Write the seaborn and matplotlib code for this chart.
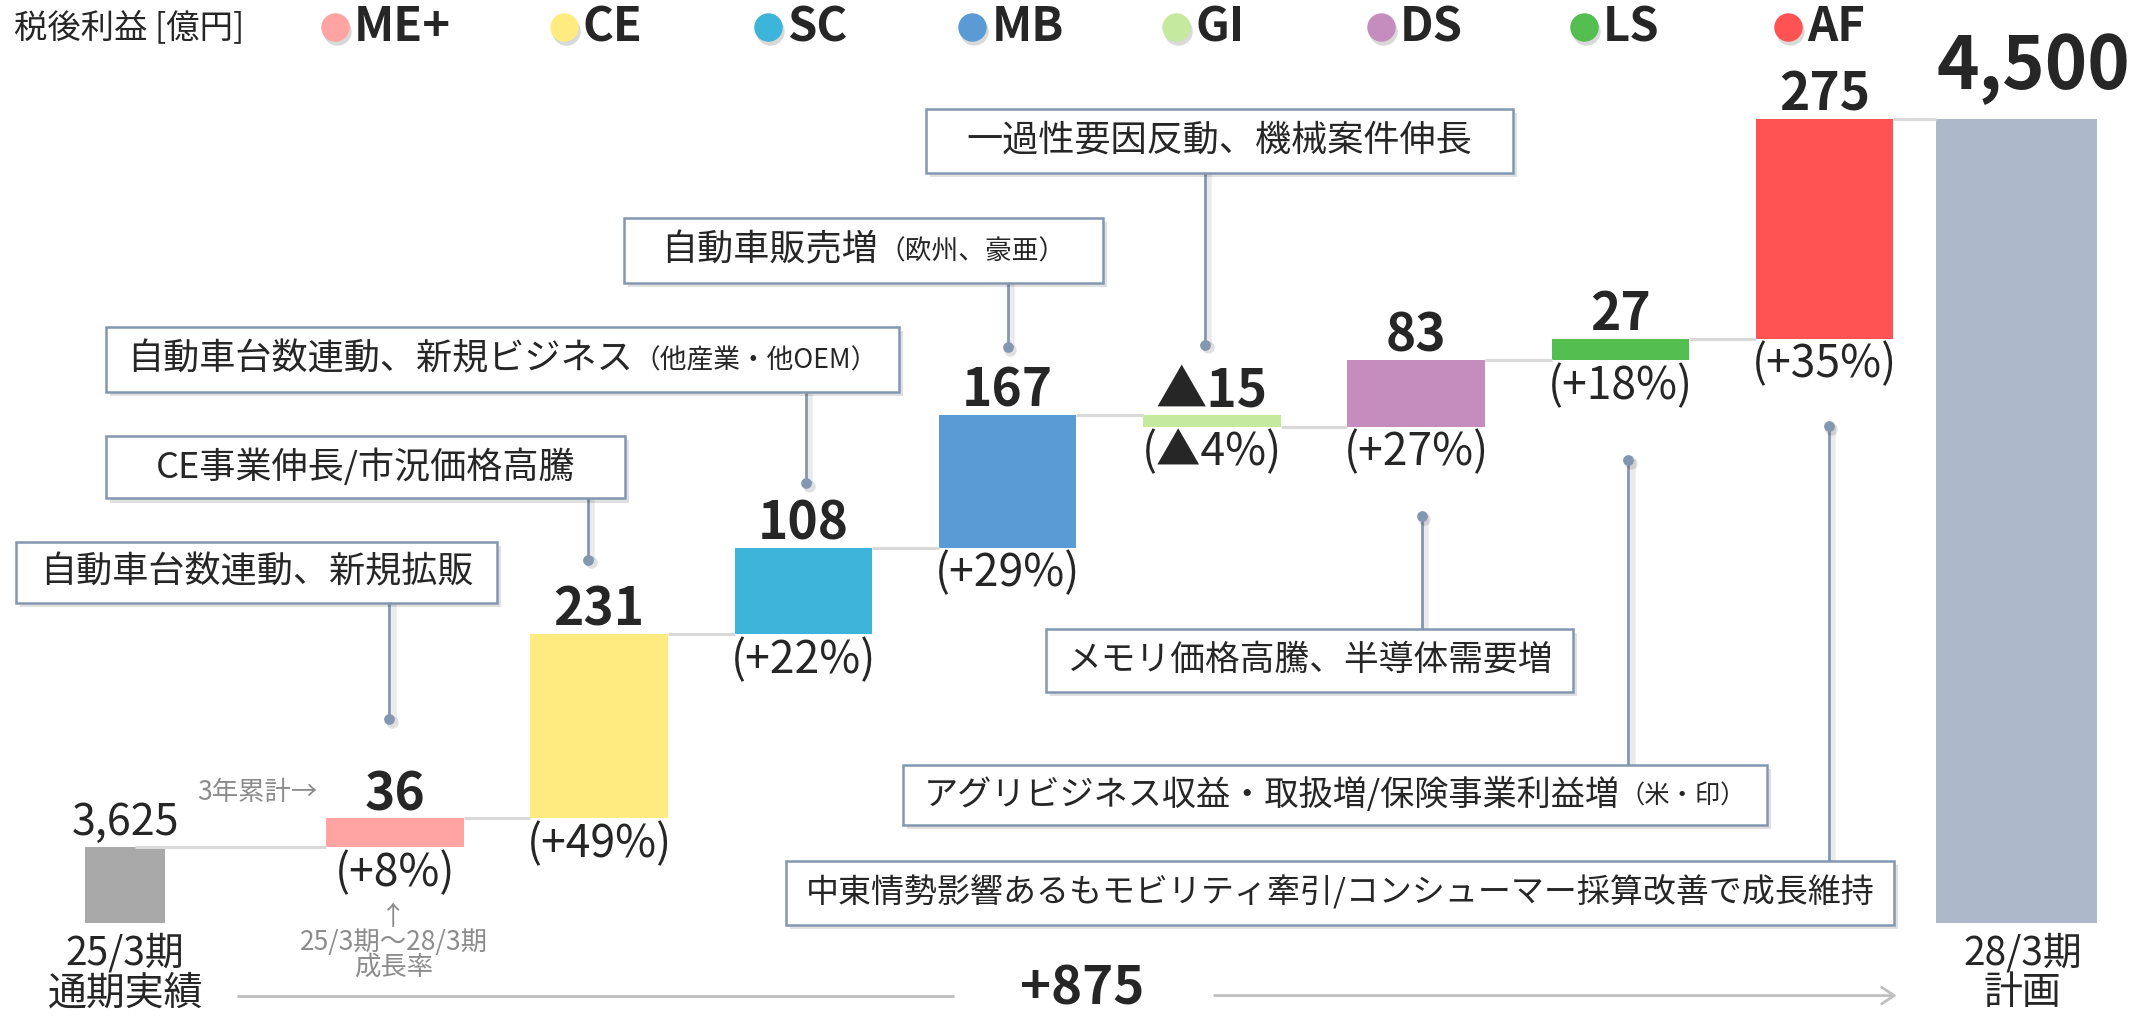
import numpy as np
import pandas as pd
import matplotlib.pyplot as plt
import seaborn as sns
from matplotlib.patches import Rectangle

# ---- data ----
start_label = "25/3期\n通期実績"
end_label = "28/3期\n計画"
segments = ["ME+", "CE", "SC", "MB", "GI", "DS", "LS", "AF"]
start_value = 3625
deltas = [36, 231, 108, 167, -15, 83, 27, 275]
growth_pct = [8, 49, 22, 29, -4, 27, 18, 35]
plan_value = 4500
total_change = 875

seg_colors = ["#FFA3A3", "#FFEB7F", "#3DB4DA", "#5B9BD5", "#C6E9A0", "#C48DBE", "#55BE50", "#FF5353"]
start_color = "#A9A9A9"
end_color = "#ADB9CA"

notes_main = ["一過性要因反動、機械案件伸長", "自動車販売増", "自動車台数連動、新規ビジネス",
              "CE事業伸長/市況価格高騰", "自動車台数連動、新規拡販", "メモリ価格高騰、半導体需要増",
              "アグリビジネス収益・取扱増/保険事業利益増",
              "中東情勢影響あるもモビリティ牽引/コンシューマー採算改善で成長維持"]
notes_small = ["", "（欧州、豪亜）", "（他産業・他OEM）", "", "", "", "（米・印）", ""]

# ---- layout (reference pixel grid 1568x746) ----
W, H = 1568, 746
note_boxes = [(680, 80, 1111, 127), (458, 160, 810, 208), (78, 240, 660, 288),
              (78, 320, 459, 366), (12, 398, 365, 443), (768, 462, 1155, 508),
              (663, 562, 1298, 606), (577, 632, 1391, 679)]
note_link_x = [885, 740, 592, 432, 286, 1044, 1196, 1343]
note_dot_y = [253, 255, 355, 411, 528, 379, 338, 313]
legend_x = [246, 414, 564, 714, 864, 1014, 1163, 1313]

px_per_unit = 0.586
y_start_px, base_px = 622, 678
base = start_value - (base_px - y_start_px) / px_per_unit

pos = [-0.32] + list(range(1, 9)) + [8.94]
widths = [0.393] + [0.673] * 8 + [0.787]

cum = start_value + np.cumsum([0] + deltas)
seg_bottom = np.minimum(cum[:-1], cum[1:])
end_top = cum[-1]

df = pd.DataFrame({
    "step": [start_label] + segments + [end_label],
    "pos": pos,
    "bottom": [base] + list(seg_bottom) + [base],
    "height": [start_value - base] + list(np.abs(deltas)) + [end_top - base],
})
colors = [start_color] + seg_colors + [end_color]

sns.set_style("white")
plt.rcParams["font.family"] = ["Noto Sans CJK JP", "DejaVu Sans"]

fig = plt.figure(figsize=(21.35, 10.16), dpi=100)
ax = fig.add_axes([0, 0, 1, 1])
sns.barplot(data=df, x="pos", y="height", native_scale=True, bottom=df["bottom"].to_numpy(),
            errorbar=None, width=0.7, linewidth=0, color=start_color, saturation=1, ax=ax)
for p, x, w, c in zip(ax.patches, df["pos"], widths, colors):
    p.set_x(x - w / 2)
    p.set_width(w)
    p.set_facecolor(c)

ax.set_xlim(1 - 290 / 150, 1 + (W - 290) / 150)
ax.set_ylim(start_value - (H - y_start_px) / px_per_unit, start_value + y_start_px / px_per_unit)
ax.axis("off")

# connectors between bars
for i in range(len(pos) - 1):
    ax.hlines(cum[i], pos[i] + widths[i] / 2 - 0.15 * (i == 0), pos[i + 1] - widths[i + 1] / 2,
              color="#D9D9D9", lw=2.2, zorder=1)

# value labels
for i, d in enumerate(deltas):
    top = max(cum[i], cum[i + 1])
    bot = min(cum[i], cum[i + 1])
    txt = f"{d}" if d > 0 else f"▲{abs(d)}"
    ax.annotate(txt, (pos[i + 1], top), xytext=(0, 6), textcoords="offset points",
                ha="center", va="baseline", fontsize=37, fontweight="bold")
    g = growth_pct[i]
    gtxt = f"(+{g}%)" if g > 0 else f"(▲{abs(g)}%)"
    ax.annotate(gtxt, (pos[i + 1], bot), xytext=(0, -2), textcoords="offset points",
                ha="center", va="top", fontsize=32)

ax.annotate(f"{start_value:,}", (pos[0], start_value), xytext=(0, 9), textcoords="offset points",
            ha="center", va="baseline", fontsize=31)
ax.annotate(f"{plan_value:,}", (pos[-1] + 0.08, end_top), xytext=(0, 22), textcoords="offset points",
            ha="center", va="baseline", fontsize=52, fontweight="bold")
ax.annotate(start_label, (pos[0], base), xytext=(0, -7), textcoords="offset points",
            ha="center", va="top", fontsize=28, linespacing=1.0)
ax.annotate(end_label, (pos[-1] + 0.03, base), xytext=(0, -7), textcoords="offset points",
            ha="center", va="top", fontsize=28, linespacing=1.0)

# ---- overlay in reference pixel space ----
lay = fig.add_axes([0, 0, 1, 1], facecolor="none")
lay.set_xlim(0, W)
lay.set_ylim(H, 0)
lay.axis("off")

lay.text(10, 20, "税後利益 [億円]", fontsize=24, va="center", ha="left")
for x, c, s in zip(legend_x, seg_colors, segments):
    lay.scatter([x + 1.5], [22.5], s=420, color="#000000", alpha=0.15, lw=0)
    lay.scatter([x], [20], s=420, color=c, lw=0)
    lay.text(x + 14, 20, s, fontsize=34, fontweight="bold", va="center", ha="left")

renderer = fig.canvas.get_renderer()


def text_w(t):
    return t.get_window_extent(renderer).width * W / (fig.get_figwidth() * fig.dpi)


edge = "#8497B0"
for main, small, (x0, y0, x1, y1), lx, dy in zip(notes_main, notes_small, note_boxes, note_link_x, note_dot_y):
    y_from = y1 if dy > y1 else y0
    lay.plot([lx + 3, lx + 3], [y_from, dy], color="#000000", alpha=0.08, lw=4, solid_capstyle="butt")
    lay.plot([lx, lx], [y_from, dy], color=edge, lw=2, zorder=3)
    lay.scatter([lx + 2], [dy + 2], s=80, color="#000000", alpha=0.12, lw=0, zorder=3)
    lay.scatter([lx], [dy], s=60, color=edge, lw=0, zorder=4)
    lay.add_patch(Rectangle((x0 + 3, y0 + 3), x1 - x0, y1 - y0, fc="#000000", alpha=0.12, lw=0, zorder=4))
    lay.add_patch(Rectangle((x0, y0), x1 - x0, y1 - y0, fc="white", ec=edge, lw=1.8, zorder=5))
    cy = (y0 + y1) / 2
    fs = 26
    t1 = lay.text(0, cy, main, fontsize=fs, va="center", ha="left", zorder=6)
    t2 = lay.text(0, cy + 1, small, fontsize=fs * 0.74, va="center", ha="left", zorder=6)
    w1, w2 = text_w(t1), (text_w(t2) if small else 0)
    avail = (x1 - x0) - 30
    if w1 + w2 > avail:
        k = avail / (w1 + w2)
        t1.set_fontsize(fs * k)
        t2.set_fontsize(fs * 0.74 * k)
        w1, w2 = text_w(t1), (text_w(t2) if small else 0)
    sx = (x0 + x1) / 2 - (w1 + w2) / 2
    t1.set_x(sx)
    t2.set_x(sx + w1)

gray = "#8C8C8C"
lay.text(189, 582, "3年累計→", fontsize=19, color=gray, ha="center", va="center")
lay.text(289, 664, "↑\n25/3期〜28/3期\n成長率", fontsize=19, color=gray, ha="center", va="top",
         linespacing=0.9)

lay.plot([175, 700], [731, 731], color="#BFBFBF", lw=2)
lay.annotate("", xy=(1395, 731), xytext=(890, 731),
             arrowprops=dict(arrowstyle="->,head_length=0.9,head_width=0.6", color="#BFBFBF", lw=2))
lay.text(795, 726, f"+{total_change}", fontsize=38, fontweight="bold", ha="center", va="center")

fig.savefig("out.png", dpi=100)
